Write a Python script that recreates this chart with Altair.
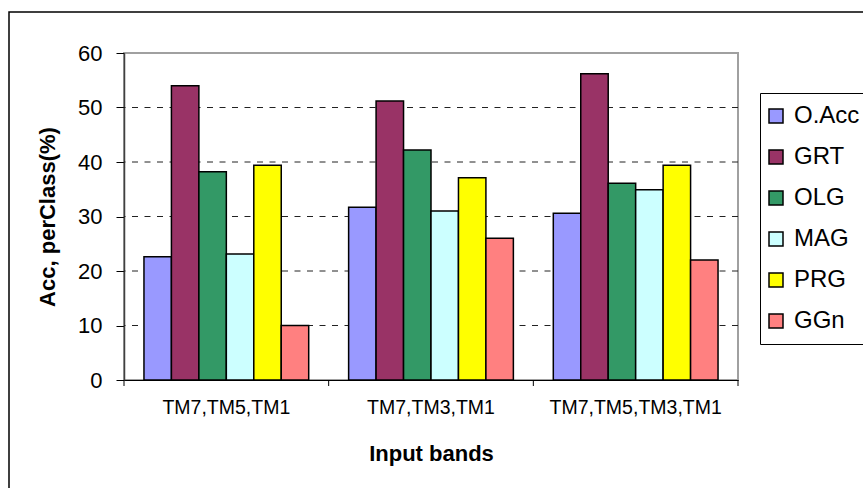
import altair as alt
import pandas as pd

# Input band combinations and classes
bands = ["TM7,TM5,TM1", "TM7,TM3,TM1", "TM7,TM5,TM3,TM1"]
classes = ["O.Acc", "GRT", "OLG", "MAG", "PRG", "GGn"]
colors = ["#9999FF", "#993366", "#339966", "#CCFFFF", "#FFFF00", "#FF8080"]

# Accuracy per class (%) for each band combination
o_acc = [22.6, 31.7, 30.6]
grt = [54.0, 51.2, 56.2]
olg = [38.2, 42.2, 36.1]
mag = [23.1, 31.0, 34.9]
prg = [39.4, 37.1, 39.4]
ggn = [10.0, 26.0, 22.0]

y_ticks = [0, 10, 20, 30, 40, 50, 60]
grid_vals = [10, 20, 30, 40, 50]

series = [o_acc, grt, olg, mag, prg, ggn]
rows = []
for cls, vals in zip(classes, series):
    for b, v in zip(bands, vals):
        rows.append({"band": b, "cls": cls, "acc": v})
df = pd.DataFrame(rows)

W, H = 614, 327
FONT = "Liberation Sans"

frame = alt.Chart(pd.DataFrame({"k": [0]})).mark_rect(
    filled=False, stroke="black", strokeWidth=1.5
).encode(
    x=alt.value(-115), x2=alt.value(900), y=alt.value(-41), y2=alt.value(700)
)

grid = alt.Chart(pd.DataFrame({"acc": grid_vals})).mark_rule(
    color="#222222", strokeWidth=1, strokeDash=[6, 6.5]
).encode(y=alt.Y("acc:Q"))

bars = alt.Chart(df).mark_bar(stroke="black", strokeWidth=1.5).encode(
    x=alt.X(
        "band:N",
        scale=alt.Scale(domain=bands, paddingInner=0, paddingOuter=0),
        axis=alt.Axis(
            title="Input bands",
            ticks=False,
            tickSize=0,
            labelAngle=0,
            labelFont=FONT,
            labelFontSize=19.5,
            labelColor="black",
            labelPadding=18,
            labelLimit=400,
            domainColor="black",
            domainWidth=1.2,
            titleFont=FONT,
            titleFontSize=22,
            titleFontWeight="bold",
            titleColor="black",
            titleX=W / 2,
            titleY=73,
            titleBaseline="middle",
            titleAlign="center",
        ),
    ),
    xOffset=alt.XOffset(
        "cls:N",
        sort=classes,
        scale=alt.Scale(domain=classes, paddingInner=0, paddingOuter=0.727),
    ),
    y=alt.Y(
        "acc:Q",
        scale=alt.Scale(domain=[0, 60], nice=False),
        axis=alt.Axis(
            title="Acc, perClass(%)",
            values=y_ticks,
            grid=False,
            tickSize=8,
            tickColor="black",
            labelFont=FONT,
            labelFontSize=22,
            labelColor="black",
            labelPadding=14,
            domainColor="#404040",
            domainWidth=1.5,
            titleFont=FONT,
            titleFontSize=22,
            titleFontWeight="bold",
            titleColor="black",
            titleX=-77,
            titleY=H / 2,
            titleAngle=-90,
            titleBaseline="middle",
            titleAlign="center",
        ),
    ),
    fill=alt.Fill(
        "cls:N",
        sort=classes,
        scale=alt.Scale(domain=classes, range=colors),
        legend=alt.Legend(
            title=None,
            orient="none",
            legendX=636,
            legendY=40,
            strokeColor="black",
            fillColor="white",
            padding=11,
            symbolType="square",
            symbolSize=196,
            symbolOffset=-7,
            symbolStrokeColor="black",
            symbolStrokeWidth=1.5,
            symbolOpacity=1,
            labelFont=FONT,
            labelFontSize=24,
            labelColor="black",
            labelOffset=6,
            rowPadding=17,
            labelLimit=300,
        ),
    ),
)

ticks_left = alt.Chart(pd.DataFrame({"band": bands})).mark_rule(
    color="black", strokeWidth=1
).encode(
    x=alt.X("band:N", bandPosition=0),
    y=alt.value(H),
    y2=alt.value(H + 6),
)
ticks_right = alt.Chart(pd.DataFrame({"band": bands[-1:]})).mark_rule(
    color="black", strokeWidth=1
).encode(
    x=alt.X("band:N", bandPosition=1),
    y=alt.value(H),
    y2=alt.value(H + 6),
)

chart = alt.layer(frame, grid, bars, ticks_left, ticks_right).properties(
    width=W,
    height=H,
    autosize=alt.AutoSizeParams(type="none"),
    padding={"left": 124, "top": 53, "right": 125, "bottom": 108},
    background="white",
).configure_view(stroke="#a0a0a0", strokeWidth=2)

chart.save("out.html", embed_options={"renderer": "svg", "actions": False})
